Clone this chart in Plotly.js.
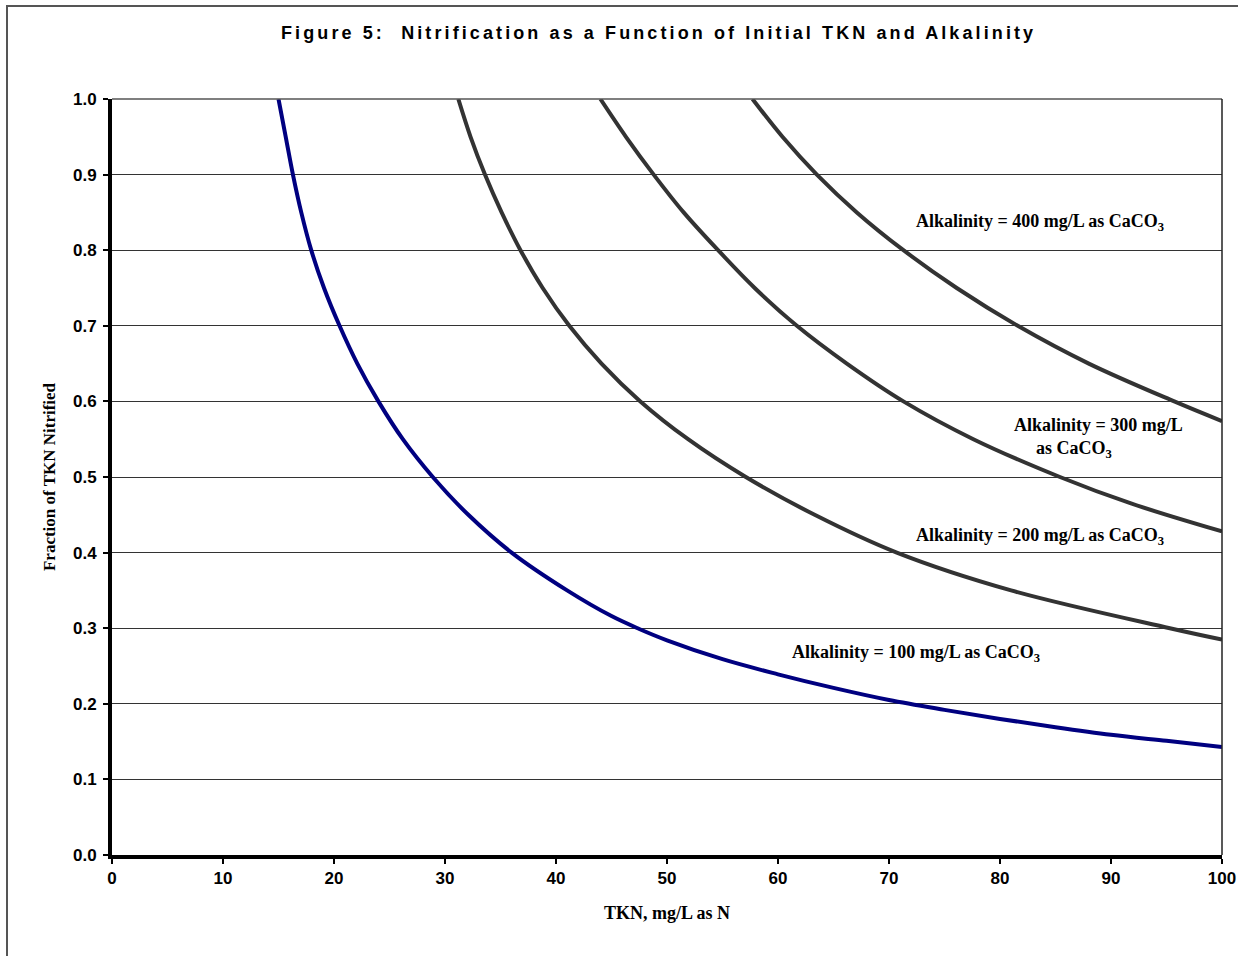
<!DOCTYPE html>
<html>
<head>
<meta charset="utf-8">
<script src="https://cdn.plot.ly/plotly-3.0.1.min.js"></script>
<style>
  html, body { margin:0; padding:0; background:#fff; }
  #wrap { position:relative; width:1238px; height:956px; overflow:hidden; }
  #chart { width:1238px; height:956px; }
  #frame { position:absolute; left:6px; top:5px; width:1300px; height:1000px;
           border-left:2px solid #555; border-top:2px solid #555; pointer-events:none; }
  .gtitle { letter-spacing: 3.1px; }
</style>
</head>
<body>
<div id="wrap">
<div id="chart"></div>
<div id="frame"></div>
</div>
<script>
// TKN (mg/L as N) vs fraction nitrified
const x100 = [15.0, 15.65, 16.3, 17.05, 17.95, 19.1, 20.5, 22.1, 24.0, 26.2, 28.9, 32.1, 36.0, 41.0, 45, 47.5, 50, 55, 60, 65, 70, 75, 80, 85, 90, 95, 100];
const y100 = [1.0, 0.95, 0.9, 0.85, 0.8, 0.75, 0.7, 0.65, 0.6, 0.55, 0.5, 0.45, 0.4, 0.35, 0.316, 0.299, 0.284, 0.259, 0.239, 0.221, 0.205, 0.192, 0.18, 0.169, 0.159, 0.151, 0.143];

const x200 = [31.2, 32.3, 33.6, 35.1, 36.8, 38.8, 41.2, 44.1, 47.6, 51.9, 57.1, 63.3, 70.7, 81.0, 95.3, 100];
const y200 = [1.0, 0.95, 0.9, 0.85, 0.8, 0.75, 0.7, 0.65, 0.6, 0.55, 0.5, 0.45, 0.4, 0.35, 0.3, 0.285];

const x300 = [44.0, 46.3, 48.8, 51.5, 54.6, 57.9, 61.7, 66.2, 71.3, 77.6, 85.4, 91.8, 100];
const y300 = [1.0, 0.95, 0.9, 0.85, 0.8, 0.75, 0.7, 0.65, 0.6, 0.55, 0.5, 0.465, 0.428];

const x400 = [57.7, 60.4, 63.5, 67.1, 71.3, 76.1, 81.6, 88.0, 95.7, 100];
const y400 = [1.0, 0.95, 0.9, 0.85, 0.8, 0.75, 0.7, 0.65, 0.6, 0.574];

const xTicks = [0, 10, 20, 30, 40, 50, 60, 70, 80, 90, 100];
const yTicks = [0, 0.1, 0.2, 0.3, 0.4, 0.5, 0.6, 0.7, 0.8, 0.9, 1.0];
const yTickText = ['0.0','0.1','0.2','0.3','0.4','0.5','0.6','0.7','0.8','0.9','1.0'];

const labels = [
  'Alkalinity = 400 mg/L as CaCO<sub>3</sub>',
  'Alkalinity = 300 mg/L',
  'as CaCO<sub>3</sub>',
  'Alkalinity = 200 mg/L as CaCO<sub>3</sub>',
  'Alkalinity = 100 mg/L as CaCO<sub>3</sub>'
];

const titleText = 'Figure 5:  Nitrification as a Function of Initial TKN and Alkalinity';
const xTitle = 'TKN, mg/L as N';
const yTitle = 'Fraction of TKN Nitrified';

const grayLine = {color:'#333333', width:4, shape:'spline', smoothing:1.0};
const traces = [
  {x:x100, y:y100, mode:'lines', line:{color:'#000080', width:4, shape:'spline', smoothing:1.0}, hoverinfo:'skip'},
  {x:x200, y:y200, mode:'lines', line:grayLine, hoverinfo:'skip'},
  {x:x300, y:y300, mode:'lines', line:grayLine, hoverinfo:'skip'},
  {x:x400, y:y400, mode:'lines', line:grayLine, hoverinfo:'skip'}
];

const sans = '"Liberation Sans", Arial, sans-serif';
const serif = '"Liberation Serif", "Times New Roman", serif';
const lblFont = {family: serif, size: 18, color: '#000', weight: 'bold'};

const annPos = [
  {x:83.6, y:0.837},
  {x:88.9, y:0.569},
  {x:86.7, y:0.536},
  {x:83.6, y:0.421},
  {x:72.4, y:0.267}
];

const annotations = labels.map((t, i) => ({
  text: '<b>' + t + '</b>', x: annPos[i].x, y: annPos[i].y, xref:'x', yref:'y',
  showarrow:false, xanchor:'center', yanchor:'middle', font: lblFont
}));

const layout = {
  width:1238, height:956,
  margin:{l:112, r:16, t:99, b:101},
  paper_bgcolor:'#ffffff', plot_bgcolor:'#ffffff',
  showlegend:false,
  title:{text:'<b>' + titleText + '</b>', xref:'container', x:0.532, xanchor:'center',
         yref:'container', y:0.966, yanchor:'middle',
         font:{family:sans, size:18, color:'#000', weight:'bold'}},
  xaxis:{range:[0,100], tickvals:xTicks, ticktext:xTicks.map(String), showgrid:false, zeroline:false,
         showline:true, linecolor:'#000', linewidth:4, ticks:'outside', ticklen:5, tickwidth:2, tickcolor:'#000',
         tickfont:{family:sans, size:17, color:'#000', weight:'bold'},
         title:{text:'<b>' + xTitle + '</b>', font:{family:serif, size:18, color:'#000'}, standoff:20}},
  yaxis:{range:[0,1], tickvals:yTicks, ticktext:yTickText, showgrid:true, gridcolor:'#333333', gridwidth:1,
         zeroline:false, showline:true, linecolor:'#000', linewidth:4, ticks:'outside', ticklen:5, tickwidth:2, tickcolor:'#000',
         tickfont:{family:sans, size:17, color:'#000', weight:'bold'}, ticklabelstandoff:3,
         title:{text:'<b>' + yTitle + '</b>', font:{family:serif, size:17, color:'#000'}, standoff:14}},
  shapes:[
    {type:'line', xref:'paper', yref:'paper', x0:0, x1:1, y0:1, y1:1, line:{color:'#555555', width:1.5}},
    {type:'line', xref:'paper', yref:'paper', x0:1, x1:1, y0:0, y1:1, line:{color:'#222222', width:1.5}}
  ],
  annotations: annotations
};

Plotly.newPlot('chart', traces, layout, {displayModeBar:false, staticPlot:true});
</script>
</body>
</html>
